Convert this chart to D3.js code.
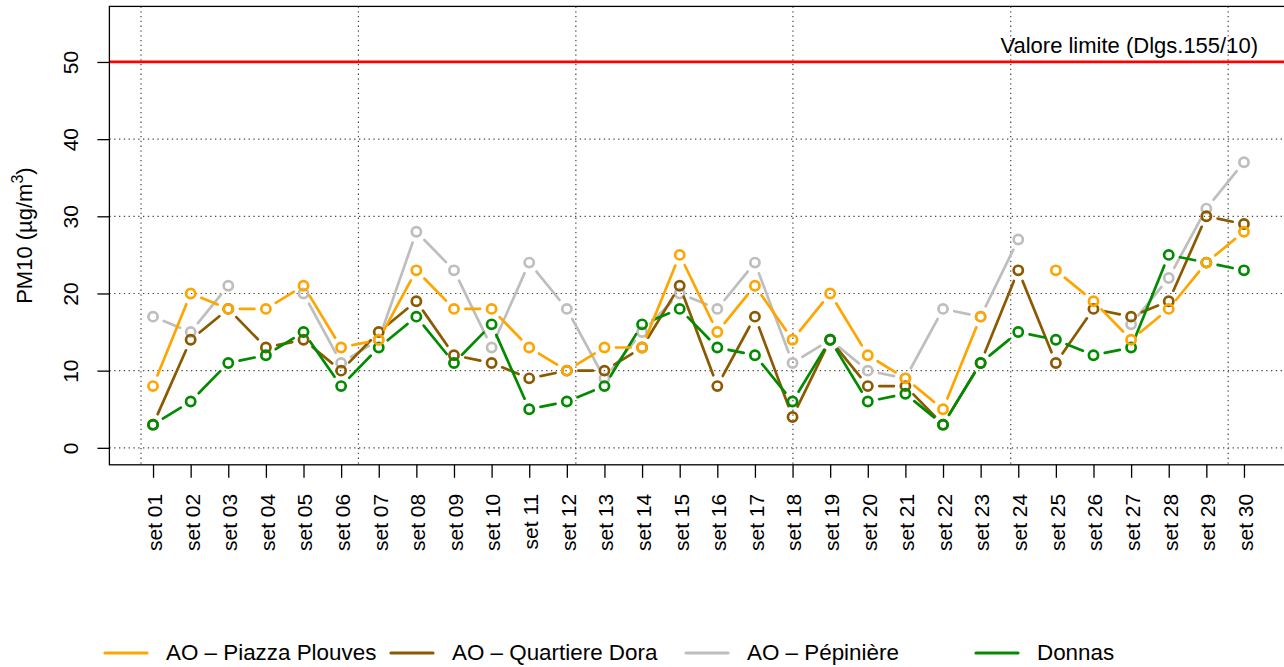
<!DOCTYPE html>
<html>
<head>
<meta charset="utf-8">
<script src="https://cdn.jsdelivr.net/npm/d3@7"></script>
<style>
  body { margin: 0; background: #fff; }
  svg { display: block; font-family: "Liberation Sans", Arial, sans-serif; }
  .grid { stroke: #444; stroke-width: 1.2; stroke-dasharray: 1.3 3.5; }
  .axis text { font-size: 21px; fill: #000; }
  .axis line { stroke: #000; stroke-width: 1.3; }
</style>
</head>
<body>
<svg id="chart" width="1284" height="667"></svg>
<script>
  // days (tick labels)
  var days = ['set 01','set 02','set 03','set 04','set 05','set 06','set 07','set 08','set 09','set 10',
              'set 11','set 12','set 13','set 14','set 15','set 16','set 17','set 18','set 19','set 20',
              'set 21','set 22','set 23','set 24','set 25','set 26','set 27','set 28','set 29','set 30'];

  // PM10 daily values, null = missing
  var plouves = [8,20,18,18,21,13,14,23,18,18,13,10,13,13,25,15,21,14,20,12,9,5,17,null,23,19,14,18,24,28];
  var dora    = [3,14,18,13,14,10,15,19,12,11,9,10,10,13,21,8,17,4,14,8,8,3,11,23,11,18,17,19,30,29];
  var pepin   = [17,15,21,null,20,11,14,28,23,13,24,18,9,15,20,18,24,11,14,10,9,18,17,27,null,null,16,22,31,37];
  var donnas  = [3,6,11,12,15,8,13,17,11,16,5,6,8,16,18,13,12,6,14,6,7,3,11,15,14,12,13,25,24,23];

  var yTicks = [0,10,20,30,40,50];
  var limitValue = 50;
  var limitLabel = 'Valore limite (Dlgs.155/10)';
  var gridDays = [0.68, 6.46, 12.24, 18.01, 23.8, 29.58];

  var seriesNames  = ['AO \u2013 Piazza Plouves', 'AO \u2013 Quartiere Dora', 'AO \u2013 P\u00e9pini\u00e8re', 'Donnas'];
  var seriesColors = ['#FFA500', '#8B5A00', '#BEBEBE', '#008B00'];

(function () {
  'use strict';

  var svg = d3.select('#chart');

  var pLeft = 109.4, pRight = 1287.6, pTop = 6.4, pBottom = 464.8;
  var x = d3.scaleLinear().domain([-0.16, 31.16]).range([pLeft, pRight]);
  var y = d3.scaleLinear().domain([-2.2, 57.2]).range([pBottom, pTop]);

  // grid
  svg.append('g').selectAll('line').data(yTicks.slice(0, 5)).join('line')
    .attr('class', 'grid')
    .attr('x1', pLeft).attr('x2', pRight)
    .attr('y1', d => y(d)).attr('y2', d => y(d));
  svg.append('g').selectAll('line').data(gridDays).join('line')
    .attr('class', 'grid')
    .attr('x1', d => x(d)).attr('x2', d => x(d))
    .attr('y1', pTop).attr('y2', pBottom);

  // limit line
  svg.append('line')
    .attr('x1', pLeft).attr('x2', pRight)
    .attr('y1', y(limitValue)).attr('y2', y(limitValue))
    .attr('stroke', '#FF0000').attr('stroke-width', 2.8);
  svg.append('text')
    .attr('x', 1258).attr('y', y(limitValue) - 9)
    .attr('text-anchor', 'end')
    .style('font-size', '22px')
    .text(limitLabel);

  // series, drawn like R type="b" (lines stop short of the points)
  var gap = 11.5;
  function drawSeries(vals, color) {
    var g = svg.append('g');
    var pts = vals.map((v, i) => v == null ? null : [x(i + 1), y(v)]);
    for (var i = 0; i < pts.length - 1; i++) {
      var a = pts[i], b = pts[i + 1];
      if (!a || !b) continue;
      var dx = b[0] - a[0], dy = b[1] - a[1];
      var len = Math.sqrt(dx * dx + dy * dy);
      if (len <= 2 * gap) continue;
      var ux = dx / len, uy = dy / len;
      g.append('line')
        .attr('x1', a[0] + ux * gap).attr('y1', a[1] + uy * gap)
        .attr('x2', b[0] - ux * gap).attr('y2', b[1] - uy * gap)
        .attr('stroke', color).attr('stroke-width', 2.7)
        .attr('stroke-linecap', 'round');
    }
    g.selectAll('circle').data(pts.filter(p => p)).join('circle')
      .attr('cx', d => d[0]).attr('cy', d => d[1]).attr('r', 4.6)
      .attr('fill', 'none').attr('stroke', color).attr('stroke-width', 2.7);
  }
  var allSeries = [plouves, dora, pepin, donnas];
  [2, 1, 3, 0].forEach(k => drawSeries(allSeries[k], seriesColors[k]));

  // box
  svg.append('rect')
    .attr('x', pLeft).attr('y', pTop)
    .attr('width', pRight - pLeft).attr('height', pBottom - pTop)
    .attr('fill', 'none').attr('stroke', '#000').attr('stroke-width', 1.3);

  // y axis
  var yAxis = svg.append('g')
    .attr('class', 'axis')
    .attr('transform', 'translate(' + pLeft + ',0)')
    .call(d3.axisLeft(y).tickValues(yTicks).tickSize(12).tickSizeOuter(0));
  yAxis.select('.domain').remove();
  yAxis.selectAll('text')
    .attr('x', 0).attr('dy', 0)
    .attr('text-anchor', 'middle')
    .attr('transform', 'translate(-31,0) rotate(-90)');

  // x axis
  var xAxis = svg.append('g')
    .attr('class', 'axis')
    .attr('transform', 'translate(0,' + pBottom + ')')
    .call(d3.axisBottom(x).tickValues(d3.range(1, days.length + 1))
      .tickFormat(i => days[i - 1]).tickSize(13).tickSizeOuter(0));
  xAxis.select('.domain').remove();
  xAxis.selectAll('text')
    .attr('x', 0).attr('y', 0).attr('dy', '0.35em')
    .attr('text-anchor', 'end')
    .attr('transform', 'translate(1,29) rotate(-90)');

  // y title
  var yt = svg.append('text')
    .attr('transform', 'translate(32,' + ((pTop + pBottom) / 2) + ') rotate(-90)')
    .attr('text-anchor', 'middle')
    .style('font-size', '22px');
  yt.append('tspan').text('PM10 (\u00b5g/m');
  yt.append('tspan').attr('dy', -9).style('font-size', '16px').text('3');
  yt.append('tspan').attr('dy', 9).text(')');

  // legend
  var legendX = [105, 391, 686, 976];
  var lg = svg.append('g');
  seriesNames.forEach(function (name, i) {
    lg.append('line')
      .attr('x1', legendX[i]).attr('x2', legendX[i] + 42)
      .attr('y1', 653).attr('y2', 653)
      .attr('stroke', seriesColors[i]).attr('stroke-width', 3.2)
      .attr('stroke-linecap', 'round');
    lg.append('text')
      .attr('x', legendX[i] + 61).attr('y', 660)
      .style('font-size', '22.4px')
      .text(name);
  });
})();
</script>
</body>
</html>
